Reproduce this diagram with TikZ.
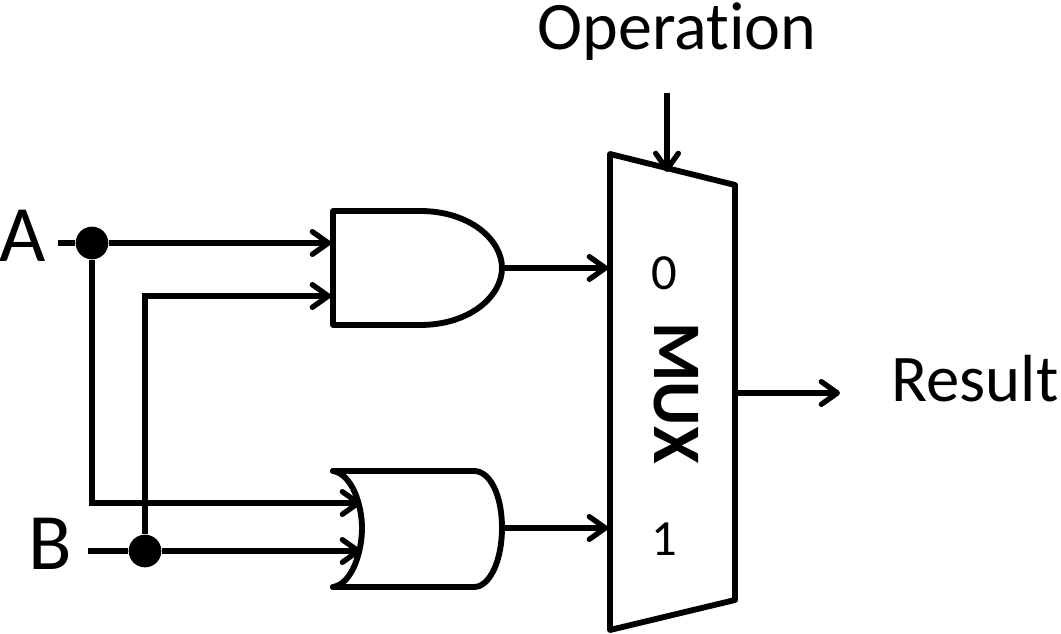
\documentclass[tikz,border=0pt]{standalone}
\usepackage{fontspec}
\setmainfont[Ligatures=CommonOff]{Carlito}
\usetikzlibrary{arrows.meta}
\tikzset{
 wire/.style={line width=4.2pt,draw=black},
 arr/.style={wire,-{Straight Barb[length=12pt,width=17pt,line width=4pt,round]}},
 dotn/.style={circle,fill=black,inner sep=0pt,minimum size=24.5pt},
 lab/.style={inner sep=0pt,anchor=center,text=black},
 gate/.style={line width=4.4pt,draw=black,line join=round,line cap=round}
}
\begin{document}
\begin{tikzpicture}[x=0.75pt,y=-0.75pt]
\useasboundingbox (0,0) rectangle (1061,634);
\node[lab,font=\fontsize{51}{56}\selectfont] (op) at (677,32) {Operation};
\node[lab,font=\fontsize{50}{56}\selectfont] (res) at (975,379) {Result};
\node[lab,font=\fontsize{60}{66}\selectfont] (A) at (23,236) {A};
\node[lab,font=\fontsize{60}{66}\selectfont] (B) at (50,544) {B};
\node[lab,font=\fontsize{38}{44}\selectfont] (m0) at (664,273) {0};
\node[lab,font=\fontsize{38}{44}\selectfont] (m1) at (664,539) {1};
\node[lab,font=\bfseries\fontsize{51}{56}\selectfont,rotate=-90] (mux) at (676,393) {MUX};
% MUX
\draw[gate] (610,154) -- (735,185) -- (735,600) -- (610,630) -- cycle;
% AND
\draw[gate] (333,211) -- (420,211) .. controls (470,211) and (502,240) .. (502,268) .. controls (502,296) and (470,325) .. (420,325) -- (333,325) -- cycle;
% OR
\draw[gate] (333,471) -- (474,471) .. controls (490,471) and (502,495) .. (502,528) .. controls (502,560) and (490,587) .. (474,587) -- (333,587);
\draw[gate] (333,471) .. controls (352,474) and (362,505) .. (362,528) .. controls (362,552) and (352,584) .. (333,587);
\node[dotn] (dA) at (92,243) {};
\node[dotn] (dB) at (145,551) {};
\coordinate (Aend) at (58,243);
\coordinate (Bend) at (88,551);
\coordinate (and1) at (331,243);
\coordinate (and2) at (331,296);
\coordinate (or1) at (361,503);
\coordinate (or2) at (361,551);
\coordinate (andout) at (502,268);
\coordinate (orout) at (502,528);
\coordinate (m0in) at (608,268);
\coordinate (m1in) at (608,528);
\coordinate (opb) at (667,93);
\coordinate (opt) at (667,172);
\coordinate (mo) at (735,393);
\coordinate (moe) at (840,393);
\draw[wire] (Aend) -- (dA);
\draw[arr] (dA) -- (and1);
\draw[arr] (dA) |- (or1);
\draw[wire] (Bend) -- (dB);
\draw[arr] (dB) -- (or2);
\draw[arr] (dB) |- (and2);
\draw[arr] (andout) -- (m0in);
\draw[arr] (orout) -- (m1in);
\draw[arr] (opb) -- (opt);
\draw[arr] (mo) -- (moe);
\end{tikzpicture}
\end{document}
